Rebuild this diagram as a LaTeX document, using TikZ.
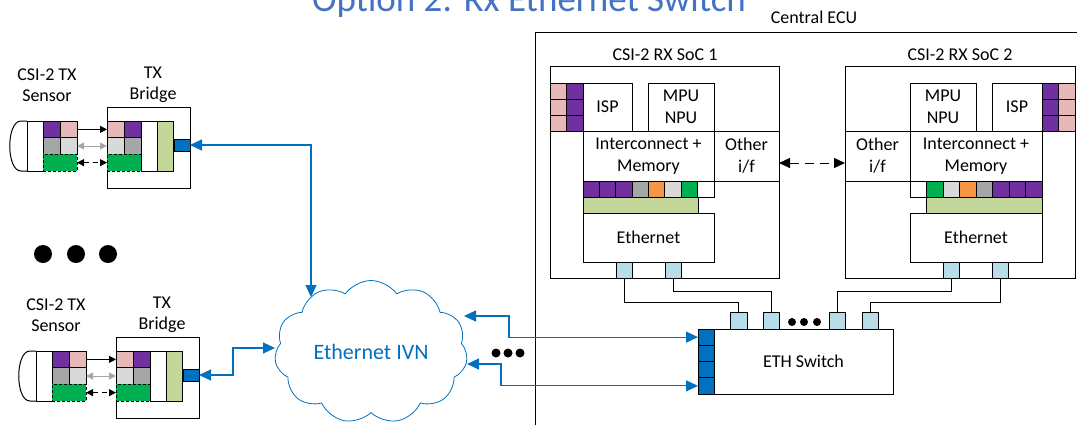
\documentclass[tikz,border=0pt]{standalone}
\usepackage{fontspec}
\setmainfont{Carlito}
\usetikzlibrary{arrows.meta,shapes.symbols}

\definecolor{cpurple}{HTML}{7030A0}
\definecolor{cpink}{HTML}{E6B9B8}
\definecolor{cgray}{HTML}{A6A6A6}
\definecolor{clgray}{HTML}{D9D9D9}
\definecolor{cgreen}{HTML}{00B050}
\definecolor{corange}{HTML}{F79646}
\definecolor{cbar}{HTML}{C4D79B}
\definecolor{cport}{HTML}{B7DEE8}
\definecolor{cblue}{HTML}{0070C0}
\definecolor{ctitle}{HTML}{4472C4}

\tikzset{
  cell/.style={draw=black, line width=1pt, inner sep=0pt, outer sep=0pt, fill=white,
    align=center, font=\fontsize{18}{22}\selectfont},
  lbl/.style={inner sep=0pt, align=center, font=\fontsize{18}{21}\selectfont},
  wire/.style={draw=black, line width=1pt},
  smalltip/.style={{Triangle[length=7pt,width=7pt]}-{Triangle[length=7pt,width=7pt]}},
  bluelink/.style={draw=cblue, line width=1.2pt,
    {Triangle[length=12pt,width=11pt]}-{Triangle[length=12pt,width=11pt]}},
  dot/.style={circle, fill=black, inner sep=0pt},
  finedash/.style={dash pattern=on 3pt off 2pt},
}

% rectangle node given by its corners: style, name, x1, y1, x2, y2, text
\newcommand\boxat[7]{\node[cell,#1,anchor=north west,
  minimum width={(#5)-(#3)},minimum height={(#6)-(#4)}] (#2) at (#3,#4) {#7};}

% sensor + bridge pair: prefix, x shift, y shift
\newcommand\txgroup[3]{%
\begin{scope}[shift={(#2,#3)}]
  \node[lbl] (#1-slabel) at (47,85) {CSI-2 TX\\Sensor};
  \node[lbl] (#1-blabel) at (153,85) {TX\\Bridge};
  % sensor lens
  \draw[wire, fill=white] (27,121) -- (21,121) .. controls (6,121) and (6,171) .. (21,171) -- (27,171);
  \boxat{}{#1-sw}{27}{121}{43}{171}{}
  \boxat{fill=cpurple}{#1-s1}{43}{121}{60}{137.7}{}
  \boxat{fill=cpink}{#1-s2}{60}{121}{77}{137.7}{}
  \boxat{fill=cgray}{#1-s3}{43}{137.7}{60}{154.3}{}
  \boxat{fill=clgray}{#1-s4}{60}{137.7}{77}{154.3}{}
  \boxat{fill=cgreen,finedash}{#1-s5}{43}{154.3}{77}{171}{}
  % bridge
  \boxat{}{#1-bridge}{107}{107}{190}{188}{}
  \boxat{fill=cpink}{#1-b1}{107}{121}{124}{137.7}{}
  \boxat{fill=cpurple}{#1-b2}{124}{121}{141}{137.7}{}
  \boxat{fill=clgray}{#1-b3}{107}{137.7}{124}{154.3}{}
  \boxat{fill=cgray}{#1-b4}{124}{137.7}{141}{154.3}{}
  \boxat{fill=cgreen,finedash}{#1-b5}{107}{154.3}{141}{171}{}
  \boxat{}{#1-bw}{141}{121}{157}{171}{}
  \boxat{fill=cbar}{#1-bbar}{157}{121}{173}{171}{}
  \boxat{fill=cblue}{#1-port}{174}{139}{190}{151}{}
  % CSI-2 links
  \draw[wire, -{Triangle[length=7pt,width=7pt]}] (#1-s2.east) -- (#1-b1.west);
  \draw[draw=cgray, line width=1pt, smalltip] (#1-s4.east) -- (#1-b3.west);
  \draw[wire, dash pattern=on 5pt off 4pt, smalltip] (#1-s5.east) -- (#1-b5.west);
\end{scope}}

\begin{document}
\begin{tikzpicture}[x=1pt,y=-1pt]
\useasboundingbox (0,0) rectangle (1077,424);

% heading
\node[anchor=base, inner sep=0pt, text=ctitle, font=\fontsize{37}{40}\selectfont]
  (title) at (529,11) {Option 2: Rx Ethernet Switch};

% sensors and bridges
\txgroup{t}{0}{0}
\txgroup{b}{9}{230}

\node[dot, minimum size=18pt] (dl1) at (43,254) {};
\node[dot, minimum size=18pt] (dl2) at (76,254) {};
\node[dot, minimum size=18pt] (dl3) at (108,254) {};

% central ECU
\boxat{}{ecu}{535}{32}{1100}{450}{}
\node[lbl] (ecu-label) at (814,17) {Central ECU};

% SoC 1
\boxat{}{soc1}{550}{66}{779}{278}{}
\node[lbl] (soc1-label) at (665,55) {CSI-2 RX SoC 1};
\foreach \r in {0,1,2}{
  \pgfmathsetmacro\ya{83+16*\r}\pgfmathsetmacro\yb{\ya+16}
  \boxat{fill=cpink}{soc1-ga\r}{550}{\ya}{566}{\yb}{}
  \boxat{fill=cpurple}{soc1-gb\r}{566}{\ya}{583}{\yb}{}
}
\boxat{}{soc1-isp}{583}{83}{632}{131}{ISP}
\boxat{}{soc1-mpu}{648}{83}{714}{131}{MPU\\NPU}
\boxat{}{soc1-ic}{583}{131}{714}{181}{Interconnect +\\Memory}
\boxat{}{soc1-oth}{714}{131}{779}{181}{Other\\i/f}
\foreach \c [count=\i from 0] in {cpurple,cpurple,cpurple,cgray,corange,clgray,cgreen,white}{
  \pgfmathsetmacro\xa{583+16.375*\i}\pgfmathsetmacro\xb{\xa+16.375}
  \boxat{fill=\c}{soc1-q\i}{\xa}{181}{\xb}{197}{}
}
\boxat{fill=cbar}{soc1-bar}{583}{197}{698}{213}{}
\boxat{}{soc1-eth}{583}{213}{714}{262}{Ethernet}
\boxat{fill=cport}{soc1-p1}{616}{262}{632}{278}{}
\boxat{fill=cport}{soc1-p2}{665}{262}{681}{278}{}

% SoC 2
\boxat{}{soc2}{845}{66}{1075}{278}{}
\node[lbl] (soc2-label) at (960,55) {CSI-2 RX SoC 2};
\foreach \r in {0,1,2}{
  \pgfmathsetmacro\ya{83+16*\r}\pgfmathsetmacro\yb{\ya+16}
  \boxat{fill=cpurple}{soc2-ga\r}{1042}{\ya}{1058}{\yb}{}
  \boxat{fill=cpink}{soc2-gb\r}{1058}{\ya}{1075}{\yb}{}
}
\boxat{}{soc2-mpu}{910}{83}{976}{131}{MPU\\NPU}
\boxat{}{soc2-isp}{992}{83}{1042}{131}{ISP}
\boxat{}{soc2-oth}{845}{131}{910}{181}{Other\\i/f}
\boxat{}{soc2-ic}{910}{131}{1042}{181}{Interconnect +\\Memory}
\foreach \c [count=\i from 0] in {white,cgreen,clgray,corange,cgray,cpurple,cpurple,cpurple}{
  \pgfmathsetmacro\xa{910+16.5*\i}\pgfmathsetmacro\xb{\xa+16.5}
  \boxat{fill=\c}{soc2-q\i}{\xa}{181}{\xb}{197}{}
}
\boxat{fill=cbar}{soc2-bar}{926}{197}{1042}{213}{}
\boxat{}{soc2-eth}{910}{213}{1042}{262}{Ethernet}
\boxat{fill=cport}{soc2-p1}{943}{262}{959}{278}{}
\boxat{fill=cport}{soc2-p2}{992}{262}{1008}{278}{}

% SoC to SoC link
\draw[wire, dash pattern=on 9pt off 6pt,
  {Triangle[length=11pt,width=10pt]}-{Triangle[length=11pt,width=10pt]}]
  ([yshift=-7pt]soc1-oth.east) -- ([yshift=-7pt]soc2-oth.west);

% Ethernet switch
\boxat{}{sw}{714}{329}{893}{394}{ETH Switch}
\foreach \i in {1,2,3,4}{
  \pgfmathsetmacro\ya{329+16.25*(\i-1)}\pgfmathsetmacro\yb{\ya+16.25}
  \boxat{fill=cblue}{swb\i}{698}{\ya}{714}{\yb}{}
}
\boxat{fill=cport}{swt1}{730}{312}{747}{329}{}
\boxat{fill=cport}{swt2}{763}{312}{779}{329}{}
\boxat{fill=cport}{swt3}{829}{312}{845}{329}{}
\boxat{fill=cport}{swt4}{862}{312}{878}{329}{}
\node[dot, minimum size=8pt] (ds1) at (792,322) {};
\node[dot, minimum size=8pt] (ds2) at (804,322) {};
\node[dot, minimum size=8pt] (ds3) at (817,322) {};

\draw[wire] (soc1-p1.south) -- ++(0,24) -| (swt1.north);
\draw[wire] (soc1-p2.south) -- ++(0,13) -| (swt2.north);
\draw[wire] (soc2-p1.south) -- ++(0,13) -| (swt3.north);
\draw[wire] (soc2-p2.south) -- ++(0,24) -| (swt4.north);

% in-vehicle network
\node[cloud, draw=cblue, line width=0.8pt, cloud puffs=11, cloud puff arc=110, aspect=1.35,
  minimum width=193pt, minimum height=143pt, inner sep=0pt, text=cblue,
  font=\fontsize{22}{26}\selectfont] (ivn) at (371,352) {Ethernet IVN};
\coordinate (ivn-top) at (311,297);
\coordinate (ivn-left) at (275,348);
\coordinate (ivn-r1) at (464,316);
\coordinate (ivn-r2) at (467,364);

\node[dot, minimum size=9pt] (dm1) at (496,353) {};
\node[dot, minimum size=9pt] (dm2) at (508,353) {};
\node[dot, minimum size=9pt] (dm3) at (520,353) {};

\draw[bluelink] (t-port.east) -| (ivn-top);
\draw[bluelink] (b-port.east) -- ++(34,0) |- (ivn-left);
\draw[bluelink] (ivn-r1) -- (509,316) |- (swb1.west);
\draw[bluelink] (ivn-r2) -- (501,364) |- (swb4.west);
\end{tikzpicture}
\end{document}
